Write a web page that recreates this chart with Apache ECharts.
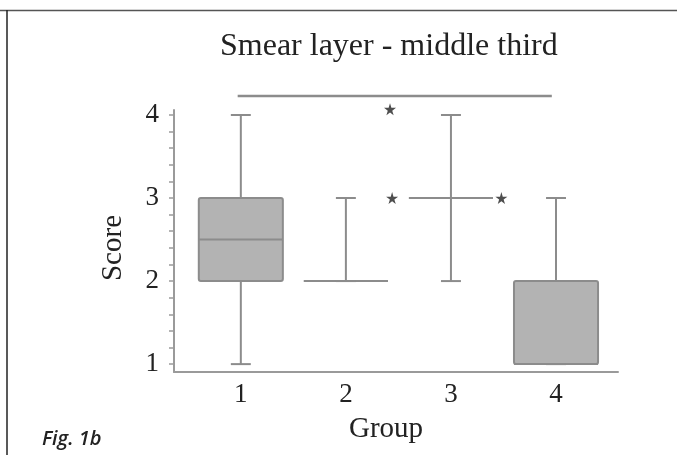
<!DOCTYPE html>
<html>
<head>
<meta charset="utf-8">
<script src="https://cdn.jsdelivr.net/npm/echarts@6/dist/echarts.min.js"></script>
<style>
  html, body { margin: 0; padding: 0; background: #fff; }
  #chart { width: 677px; height: 455px; }
</style>
</head>
<body>
<div id="chart"></div>
<script>
// box plot values per group
const groups = [1, 2, 3, 4];
const mins = [1, 2, 2, 1];
const q1s = [2, 2, 3, 1];
const medians = [2.5, 2, 3, 1];
const q3s = [3, 2, 3, 2];
const maxs = [4, 3, 4, 3];

// significance markers
const starX = [2.42, 2.44, 3.48];
const starY = [4.07, 3, 3];
const sigX = [0.97, 3.96];
const sigY = [4.23, 4.23];

// tick labels
const xTicks = [1, 2, 3, 4];
const yTicks = [1, 2, 3, 4];
const yMinorTicks = [1, 1.2, 1.4, 1.6, 1.8, 2, 2.2, 2.4, 2.6, 2.8, 3, 3.2, 3.4, 3.6, 3.8, 4];

const chart = echarts.init(document.getElementById("chart"));

const boxData = groups.map((g, i) => [g, mins[i], q1s[i], medians[i], q3s[i], maxs[i]]);
const starPath = "path://M50,0 L61,35 L98,35 L68,57 L79,91 L50,70 L21,91 L32,57 L2,35 L39,35 Z";

const LINE = "#8c8c8c";
const serif = "Liberation Serif";

const renderBox = (params, api) => {
  const x = api.value(0);
  const boxW = api.size([0.8, 0])[0];
  const capW = api.size([0.19, 0])[0];
  const pMin = api.coord([x, api.value(1)]);
  const pQ1 = api.coord([x, api.value(2)]);
  const pMed = api.coord([x, api.value(3)]);
  const pQ3 = api.coord([x, api.value(4)]);
  const pMax = api.coord([x, api.value(5)]);
  const cx = pMin[0];
  const lineStyle = { stroke: LINE, lineWidth: 2 };
  return {
    type: "group",
    children: [
      { type: "line", shape: { x1: cx, y1: pMin[1], x2: cx, y2: pMax[1] }, style: lineStyle },
      {
        type: "rect",
        shape: { x: cx - boxW / 2, y: pQ3[1], width: boxW, height: pQ1[1] - pQ3[1], r: 2 },
        style: { fill: "#b3b3b3", stroke: LINE, lineWidth: 2 },
      },
      { type: "line", shape: { x1: cx - boxW / 2, y1: pMed[1], x2: cx + boxW / 2, y2: pMed[1] }, style: lineStyle },
      { type: "line", shape: { x1: cx - capW / 2, y1: pMin[1], x2: cx + capW / 2, y2: pMin[1] }, style: lineStyle },
      { type: "line", shape: { x1: cx - capW / 2, y1: pMax[1], x2: cx + capW / 2, y2: pMax[1] }, style: lineStyle },
    ],
  };
};

const option = {
  animation: false,
  title: [
    {
      text: "Smear layer - middle third",
      left: 220,
      top: 31,
      padding: 0,
      textStyle: { fontFamily: serif, fontSize: 32, fontWeight: "normal", color: "#222" },
    },
    {
      text: "Fig. 1b",
      left: 42,
      top: 429,
      padding: 0,
      textStyle: { fontFamily: "Open Sans", fontSize: 20, fontStyle: "italic", fontWeight: 600, color: "#222" },
    },
  ],
  graphic: [
    { type: "line", shape: { x1: 0, y1: 10.5, x2: 677, y2: 10.5 }, style: { stroke: "#555", lineWidth: 1.5 } },
    { type: "line", shape: { x1: 7, y1: 10, x2: 7, y2: 455 }, style: { stroke: "#222", lineWidth: 1.5 } },
  ],
  grid: { left: 174, right: 59, top: 110, bottom: 83 },
  xAxis: {
    type: "value",
    min: 0.364,
    max: 4.59,
    name: "Group",
    nameLocation: "middle",
    nameGap: 43,
    nameTextStyle: { fontFamily: serif, fontSize: 29, color: "#222", padding: [0, 20, 0, 0] },
    splitLine: { show: false },
    axisTick: { show: false },
    axisLine: { onZero: false, lineStyle: { color: "#9a9a9a", width: 2 } },
    axisLabel: { customValues: xTicks, fontFamily: serif, fontSize: 27, color: "#222", margin: 9 },
  },
  yAxis: {
    type: "value",
    min: 0.905,
    max: 4.06,
    name: "Score",
    nameLocation: "middle",
    nameGap: 46,
    nameTextStyle: { fontFamily: serif, fontSize: 29, color: "#222", padding: [0, 14, 0, 0] },
    splitLine: { show: false },
    axisLine: { onZero: false, lineStyle: { color: "#9a9a9a", width: 2 } },
    axisTick: { customValues: yMinorTicks, length: 5, lineStyle: { color: "#9a9a9a", width: 1.5 } },
    axisLabel: { customValues: yTicks, fontFamily: serif, fontSize: 27, color: "#222", margin: 15 },
  },
  series: [
    {
      type: "custom",
      renderItem: renderBox,
      data: boxData,
      encode: { x: 0, y: [1, 2, 3, 4, 5] },
      silent: true,
    },
    {
      type: "line",
      data: sigX.map((x, i) => [x, sigY[i]]),
      symbol: "none",
      clip: false,
      lineStyle: { color: LINE, width: 2.5 },
      silent: true,
    },
    {
      type: "scatter",
      data: starX.map((x, i) => [x, starY[i]]),
      symbol: starPath,
      symbolSize: 12,
      clip: false,
      itemStyle: { color: "#222" },
      silent: true,
    },
  ],
};

chart.setOption(option);
</script>
</body>
</html>
